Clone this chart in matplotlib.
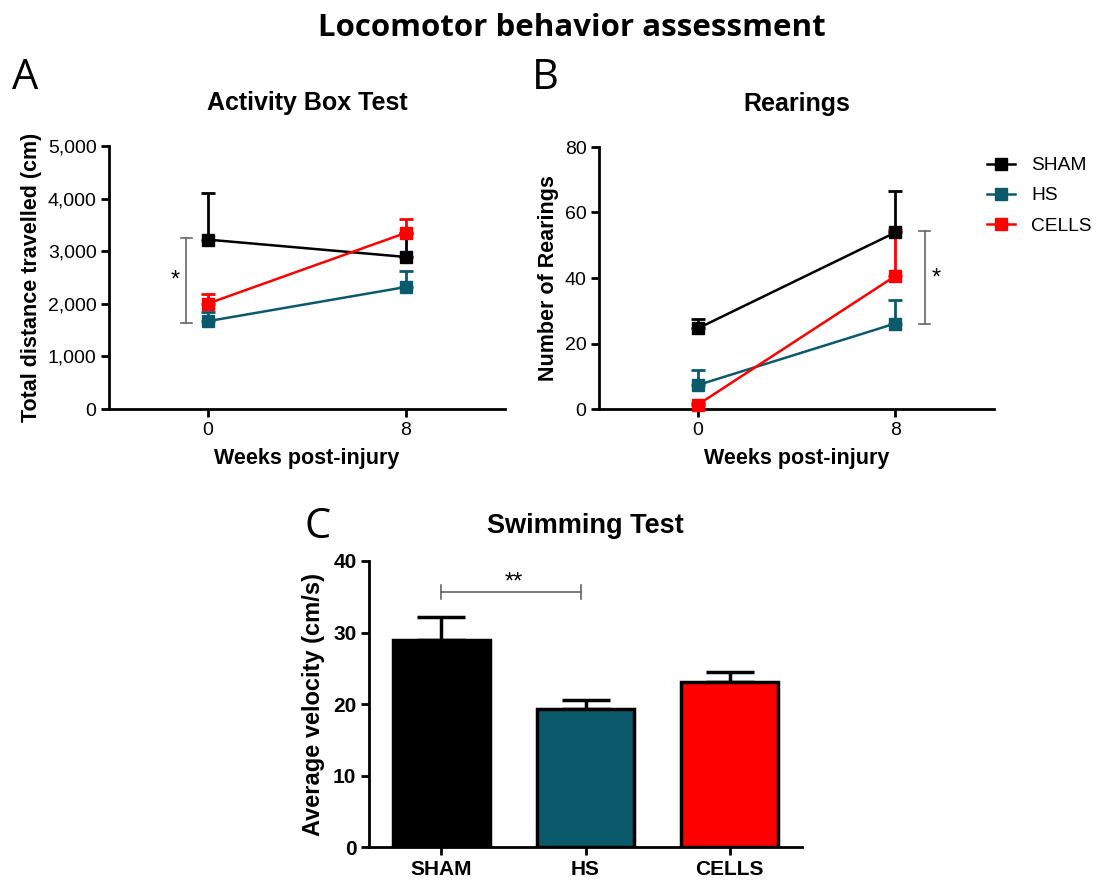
import matplotlib
matplotlib.use("Agg")
import matplotlib.pyplot as plt
from matplotlib.lines import Line2D
import numpy as np

plt.rcParams["font.family"] = ["Liberation Sans", "DejaVu Sans"]

groups = ["SHAM", "HS", "CELLS"]
colors = ["#000000", "#0b5a6c", "#ff0000"]

weeks = [0, 8]

# Activity box test: total distance travelled (cm), mean and upper SEM
distance_mean = {"SHAM": [3220, 2890], "HS": [1670, 2320], "CELLS": [2005, 3350]}
distance_err = {"SHAM": [890, 450], "HS": [180, 300], "CELLS": [175, 255]}

# Rearings
rearing_mean = {"SHAM": [24.6, 53.9], "HS": [7.3, 26.1], "CELLS": [1.3, 40.6]}
rearing_err = {"SHAM": [2.8, 12.6], "HS": [4.6, 7.2], "CELLS": [0.5, 14.0]}

# Swimming test: average velocity (cm/s)
velocity_mean = [29.0, 19.3, 23.1]
velocity_err = [3.1, 1.2, 1.4]

W, H = 1099, 880
fig = plt.figure(figsize=(W / 100, H / 100), dpi=100)


def px_axes(x0, y0, x1, y1):
    return fig.add_axes([x0 / W, 1 - y1 / H, (x1 - x0) / W, (y1 - y0) / H])


def style_axes(ax, labelsize=14):
    for side in ["top", "right"]:
        ax.spines[side].set_visible(False)
    for side in ["left", "bottom"]:
        ax.spines[side].set_linewidth(2)
    ax.tick_params(width=2, length=6, labelsize=labelsize, pad=3)


def draw_lines(ax, means, errs):
    for g, c in zip(groups, colors):
        ax.errorbar(weeks, means[g], yerr=[np.zeros(2), errs[g]], color=c,
                    lw=1.8, marker="s", ms=8, elinewidth=2, capsize=5,
                    capthick=2, clip_on=False, zorder=3)


def bracket(ax, x, y0, y1, cap):
    ax.plot([x, x], [y0, y1], color="#666666", lw=1.2)
    ax.plot([x - cap, x + cap], [y0, y0], color="#666666", lw=1.2)
    ax.plot([x - cap, x + cap], [y1, y1], color="#666666", lw=1.2)


# ---- A
axA = px_axes(109, 146, 505, 409)
style_axes(axA)
draw_lines(axA, distance_mean, distance_err)
axA.set_xlim(-4, 12)
axA.set_ylim(0, 5000)
axA.set_xticks(weeks)
axA.set_yticks(range(0, 5001, 1000))
axA.set_yticklabels([f"{v:,}" for v in range(0, 5001, 1000)])
axA.set_xlabel("Weeks post-injury", fontsize=15.5, fontweight="bold", labelpad=7)
axA.set_ylabel("Total distance travelled (cm)", fontsize=15.5, fontweight="bold", labelpad=4)
axA.set_title("Activity Box Test", fontsize=18, fontweight="bold", pad=26)
bracket(axA, -0.88, 1637, 3258, 0.22)
axA.text(-1.33, 2450, "*", fontsize=17, ha="center", va="center")

# ---- B
axB = px_axes(599, 147, 994, 409)
style_axes(axB)
draw_lines(axB, rearing_mean, rearing_err)
axB.set_xlim(-4, 12)
axB.set_ylim(0, 80)
axB.set_xticks(weeks)
axB.set_yticks(range(0, 81, 20))
axB.set_xlabel("Weeks post-injury", fontsize=15.5, fontweight="bold", labelpad=7)
axB.set_ylabel("Number of Rearings", fontsize=15.5, fontweight="bold", labelpad=4)
axB.set_title("Rearings", fontsize=18, fontweight="bold", pad=26)
bracket(axB, 9.19, 26.1, 54.2, 0.22)
axB.text(9.66, 39.9, "*", fontsize=17, ha="center", va="center")

handles = [Line2D([], [], color=c, lw=1.8, marker="s", ms=8) for c in colors]
fig.legend(handles, groups, loc="upper left", bbox_to_anchor=(987 / W, 1 - 157 / H),
           frameon=False, fontsize=13.8, handlelength=1.45, handletextpad=0.85,
           labelspacing=0.66, borderaxespad=0, borderpad=0)

# ---- C
axC = px_axes(369, 561, 802, 847)
style_axes(axC, labelsize=15)
pos = np.arange(len(groups))
axC.bar(pos, velocity_mean, width=0.67, color=colors, edgecolor="black",
        linewidth=2.5, zorder=2)
axC.errorbar(pos, velocity_mean, yerr=[np.zeros(3), velocity_err], fmt="none",
             ecolor="black", elinewidth=2.5, capsize=17, capthick=2.5, zorder=1)
axC.set_xlim(-0.5, 2.5)
axC.set_ylim(0, 40)
axC.set_xticks(pos)
axC.set_xticklabels(groups, fontweight="bold", fontsize=15)
axC.set_yticks(range(0, 41, 10))
for lab in axC.get_yticklabels():
    lab.set_fontweight("bold")
axC.set_ylabel("Average velocity (cm/s)", fontsize=17, fontweight="bold", labelpad=6)
axC.set_title("Swimming Test", fontsize=19.5, fontweight="bold", pad=20)
axC.plot([0.0, 0.97], [35.7, 35.7], color="#666666", lw=1.2)
axC.plot([0.0, 0.0], [34.7, 36.7], color="#666666", lw=1.2)
axC.plot([0.97, 0.97], [34.7, 36.7], color="#666666", lw=1.2)
axC.text(0.5, 37.0, "**", fontsize=17, ha="center", va="center")

# ---- figure text
fig.text(572 / W, 1 - 28 / H, "Locomotor behavior assessment", fontsize=22.5,
         fontweight="bold", ha="center", va="center", family=["Open Sans", "DejaVu Sans"])
fig.text(25 / W, 1 - 78 / H, "A", fontsize=30, ha="center", va="center",
         family=["Open Sans", "DejaVu Sans"])
fig.text(545 / W, 1 - 78 / H, "B", fontsize=30, ha="center", va="center",
         family=["Open Sans", "DejaVu Sans"])
fig.text(318 / W, 1 - 527 / H, "C", fontsize=30, ha="center", va="center",
         family=["Open Sans", "DejaVu Sans"])

fig.savefig("out.png", dpi=100)
